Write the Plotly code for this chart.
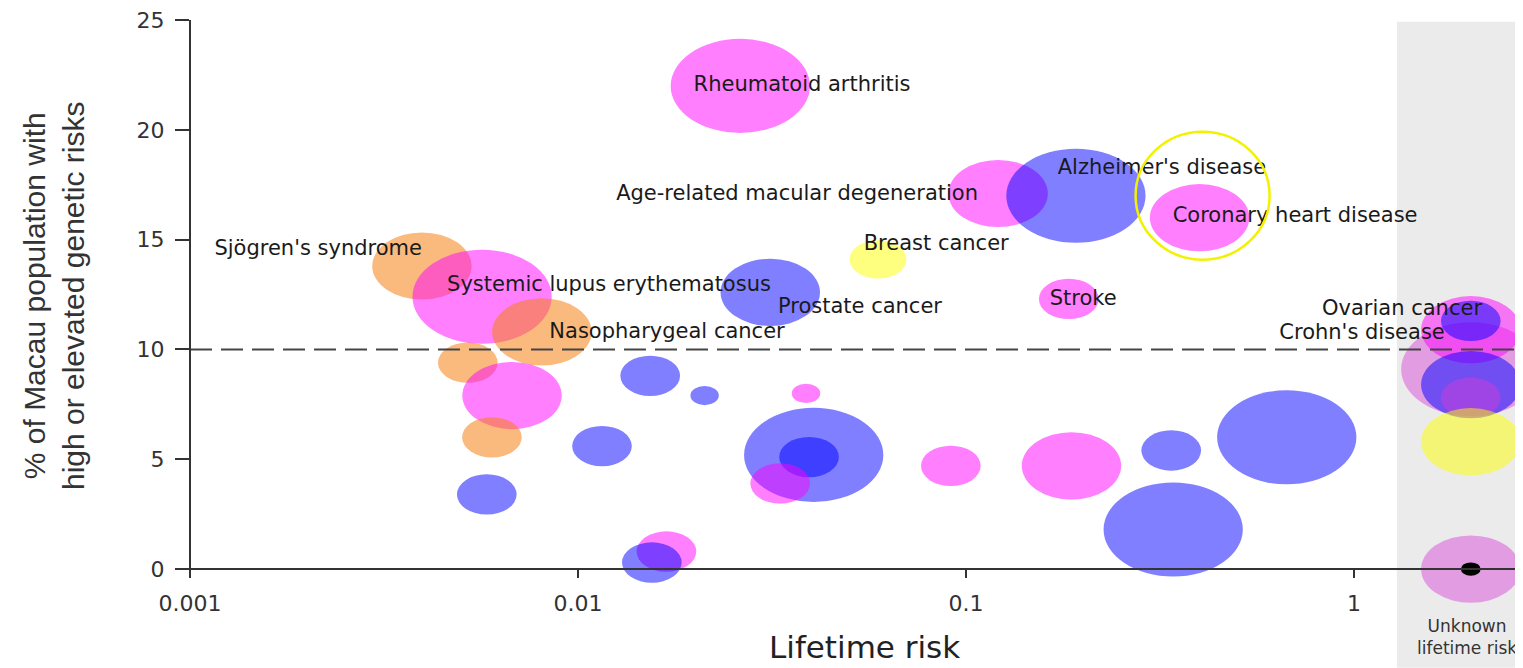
import math
import plotly.graph_objects as go

# ---------------- data ----------------
# bubbles with a known lifetime risk
BUBBLE_RISK = [0.0262, 0.121, 0.192, 0.40, 0.0593, 0.00396, 0.00566, 0.0313, 0.184, 0.00807,
               0.0052, 0.00676, 0.0060, 0.01153, 0.00582, 0.01535, 0.0212, 0.0387, 0.0405, 0.0394,
               0.0332, 0.0169, 0.0155, 0.0914, 0.187, 0.338, 0.342, 0.671]
BUBBLE_PCT = [22.0, 17.1, 17.0, 16.0, 14.1, 13.8, 12.4, 12.6, 12.3, 10.8,
              9.4, 7.9, 6.0, 5.6, 3.4, 8.8, 7.9, 8.0, 5.2, 5.1,
              3.9, 0.8, 0.3, 4.7, 4.7, 5.4, 1.8, 6.0]
BUBBLE_SIZE = [4.9, 3.5, 4.9, 3.5, 2.0, 3.5, 4.9, 3.5, 2.1, 3.5,
               2.1, 3.5, 2.1, 2.1, 2.1, 2.1, 1.0, 1.0, 4.9, 2.1,
               2.1, 2.1, 2.1, 2.1, 3.5, 2.1, 4.9, 4.9]
BUBBLE_GROUP = ["pink", "pink", "blue", "pink", "yellow", "orange", "pink", "blue", "pink", "orange",
                "orange", "pink", "orange", "blue", "blue", "blue", "blue", "pink", "blue", "blue",
                "pink", "pink", "blue", "pink", "pink", "blue", "blue", "blue"]

# bubbles with unknown lifetime risk (drawn in the grey column)
UNKNOWN_PCT = [9.1, 10.9, 11.3, 8.4, 7.8, 5.8, 0.0, 0.0]
UNKNOWN_SIZE = [4.9, 3.5, 2.1, 3.5, 2.1, 3.5, 3.5, 0.7]
UNKNOWN_GROUP = ["violet", "pink", "blue", "blue", "violet", "yellow", "violet", "black"]
UNKNOWN_RISK_POS = 2.0
UNKNOWN_START = 1.29

# disease labels
LABELS = ["Rheumatoid arthritis", "Age-related macular degeneration", "Alzheimer's disease",
          "Coronary heart disease", "Breast cancer", "Sjögren's syndrome",
          "Systemic lupus erythematosus", "Prostate cancer", "Stroke",
          "Nasopharygeal cancer", "Ovarian cancer", "Crohn's disease"]
LABEL_X = [0.0378, 0.0367, 0.320, 0.705, 0.0838, 0.00214, 0.01202, 0.0533, 0.2005, 0.01696, 1.33, 1.049]
LABEL_Y = [22.0, 17.06, 18.24, 16.02, 14.79, 14.52, 12.89, 11.89, 12.25, 10.75, 11.80, 10.71]

THRESHOLD = 10
X_TICKS = [0.001, 0.01, 0.1, 1]
X_TICKTEXT = ["0.001", "0.01", "0.1", "1"]
Y_TICKS = [0, 5, 10, 15, 20, 25]

# ---------------- styling ----------------
COLORS = {
    "pink": "rgba(255,0,255,0.5)",
    "blue": "rgba(0,0,255,0.5)",
    "orange": "rgba(245,130,20,0.55)",
    "yellow": "rgba(255,255,0,0.5)",
    "violet": "rgba(215,60,215,0.45)",
    "black": "rgba(0,0,0,1)",
}
W, H = 1515, 660              # page body adds an 8px offset
M_L, M_R, M_T, M_B = 182, 0, 10, 62
PX_PER_SIZE = 19.2
ASPECT = 1.48
Y_MIN, Y_MAX = -1.68, 25
X_RANGE = [-3, 0.4356]
DECADE_PX = (W - M_L - M_R) / (X_RANGE[1] - X_RANGE[0])
PLOT_H = H - M_T - M_B
AXIS_COLOR = "#333333"
FONT = "DejaVu Sans"

fig = go.Figure()
shapes = []

# grey "unknown" column
shapes.append(dict(type="rect", xref="x", yref="paper", x0=UNKNOWN_START, x1=10,
                   y0=-M_B / PLOT_H, y1=0.997, fillcolor="#ebebeb", line=dict(width=0), layer="below"))


def ellipse(xv, yv, size, group):
    h = size * PX_PER_SIZE
    w = h * ASPECT
    f = 10 ** (w / 2 / DECADE_PX)
    return dict(type="circle", xref="x", yref="y", ysizemode="pixel",
                x0=xv / f, x1=xv * f, yanchor=yv, y0=-h / 2, y1=h / 2,
                fillcolor=COLORS[group], line=dict(width=0), layer="between")


for xv, yv, s, g in zip(BUBBLE_RISK, BUBBLE_PCT, BUBBLE_SIZE, BUBBLE_GROUP):
    shapes.append(ellipse(xv, yv, s, g))
for yv, s, g in zip(UNKNOWN_PCT, UNKNOWN_SIZE, UNKNOWN_GROUP):
    shapes.append(ellipse(UNKNOWN_RISK_POS, yv, s, g))

# highlight loop around coronary heart disease
shapes.append(dict(type="circle", xref="x", yref="y", ysizemode="pixel",
                   x0=BUBBLE_RISK[3] / 10 ** (64 / DECADE_PX), x1=BUBBLE_RISK[3] * 10 ** (70 / DECADE_PX),
                   yanchor=BUBBLE_PCT[3], y0=-42, y1=86,
                   line=dict(color="#f2f200", width=2.5), fillcolor="rgba(0,0,0,0)", layer="above"))

# threshold dashed line
shapes.append(dict(type="line", xref="paper", yref="y", x0=0, x1=1, y0=THRESHOLD, y1=THRESHOLD,
                   line=dict(color="#444444", width=2, dash="22px,9px"), layer="above"))
# y axis line (from 0 to 25)
shapes.append(dict(type="line", xref="paper", yref="y", x0=0, x1=0, y0=-0.35, y1=Y_MAX,
                   line=dict(color=AXIS_COLOR, width=2), layer="above"))

# invisible markers carrying the data for hover
fig.add_trace(go.Scatter(x=BUBBLE_RISK, y=BUBBLE_PCT, mode="markers",
                         marker=dict(size=[s * PX_PER_SIZE for s in BUBBLE_SIZE], opacity=0),
                         hoverinfo="x+y", showlegend=False))
fig.add_trace(go.Scatter(x=[UNKNOWN_RISK_POS] * len(UNKNOWN_PCT), y=UNKNOWN_PCT, mode="markers",
                         marker=dict(size=[s * PX_PER_SIZE for s in UNKNOWN_SIZE], opacity=0),
                         hoverinfo="y", showlegend=False))
# labels
fig.add_trace(go.Scatter(x=LABEL_X, y=LABEL_Y, mode="text", text=LABELS,
                         textposition="middle center", cliponaxis=False,
                         textfont=dict(family=FONT, size=21, color="#1a1a1a"),
                         hoverinfo="skip", showlegend=False))


def py_to_paper(py):
    # page pixel row (reference coordinates) -> paper fraction
    return (H + 8 - M_B - py) / PLOT_H


annotations = [
    dict(text="% of Macau population with<br>high or elevated genetic risks", textangle=-90,
         xref="paper", yref="paper", x=(54 - 190) / (W - M_L), y=py_to_paper(295),
         xanchor="center", yanchor="middle", showarrow=False,
         font=dict(family="Liberation Sans Narrow, Arial Narrow, Liberation Sans", size=30, color="#333333")),
    dict(text="Lifetime risk", xref="paper", yref="paper", x=(865 - 190) / (W - M_L), y=py_to_paper(647),
         xanchor="center", yanchor="middle", showarrow=False,
         font=dict(family=FONT, size=31, color="#222222")),
    dict(text="Unknown<br>lifetime risk", xref="x", yref="paper", x=math.log10(UNKNOWN_RISK_POS) - 0.01,
         y=py_to_paper(637), xanchor="center", yanchor="middle", showarrow=False,
         font=dict(family=FONT, size=17, color="#333333")),
]

fig.update_layout(
    width=W, height=H,
    margin=dict(l=M_L, r=M_R, t=M_T, b=M_B),
    plot_bgcolor="white", paper_bgcolor="white",
    shapes=shapes, annotations=annotations, showlegend=False,
    xaxis=dict(type="log", range=X_RANGE, anchor="free",
               position=(0 - Y_MIN) / (Y_MAX - Y_MIN),
               showline=True, linecolor=AXIS_COLOR, linewidth=2,
               ticks="outside", ticklen=8, tickwidth=2, tickcolor=AXIS_COLOR,
               tickvals=X_TICKS, ticktext=X_TICKTEXT, ticklabelstandoff=6,
               ticklabeloverflow="allow",
               tickfont=dict(family=FONT, size=22, color="#333333"),
               showgrid=False, zeroline=False),
    yaxis=dict(range=[Y_MIN, Y_MAX], showline=False,
               ticks="outside", ticklen=14, tickwidth=2, tickcolor=AXIS_COLOR,
               tickvals=Y_TICKS, ticklabelstandoff=6, ticklabeloverflow="allow",
               tickfont=dict(family=FONT, size=22, color="#333333"),
               showgrid=False, zeroline=False),
)

fig.write_html("out.html")
